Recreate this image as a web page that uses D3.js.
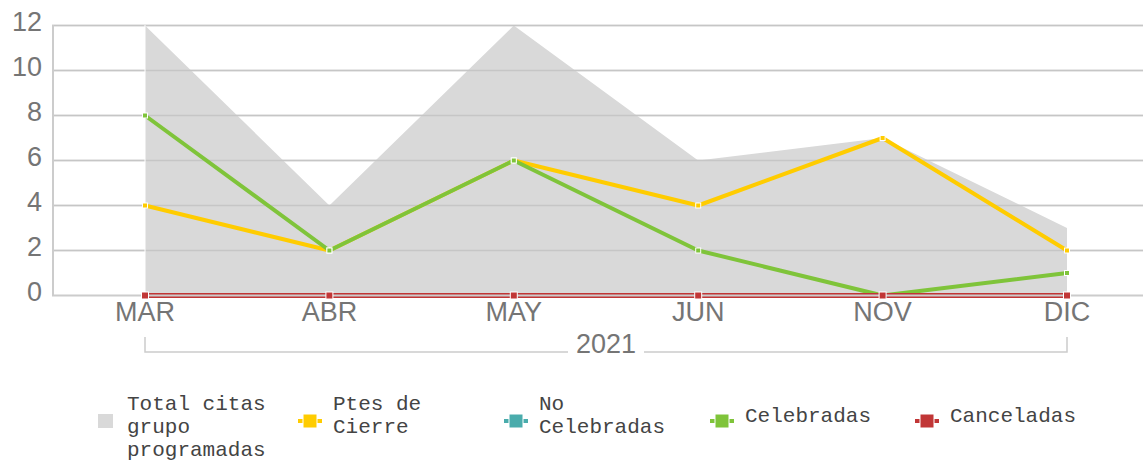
<!DOCTYPE html>
<meta charset="utf-8">
<body style="margin:0;background:#fff">
<script src="https://d3js.org/d3.v7.min.js"></script>
<style>
  body { font-family: "Liberation Sans", Arial, sans-serif; }
  .tick-label { fill: #757575; font-size: 27px; }
  .legend text { fill: #444; font-family: "Liberation Mono", "Courier New", monospace; font-size: 21px; }
</style>
<script>
// data
var months = ["MAR", "ABR", "MAY", "JUN", "NOV", "DIC"];
var year = "2021";
var totalCitas = [12, 4, 12, 6, 7, 3];
var ptesCierre = [4, 2, 6, 4, 7, 2];
var noCelebradas = [0, 0, 0, 0, 0, 0];
var celebradas = [8, 2, 6, 2, 0, 1];
var canceladas = [0, 0, 0, 0, 0, 0];
var yTicks = [0, 2, 4, 6, 8, 10, 12];

var legendLabels = [["Total citas", "grupo", "programadas"], ["Ptes de", "Cierre"], ["No", "Celebradas"], ["Celebradas"], ["Canceladas"]];
var legendColors = ["#d9d9d9", "#ffcc00", "#4aacac", "#7fc43a", "#c13636"];

var W = 1143, H = 463;
var svg = d3.select("body").append("svg").attr("width", W).attr("height", H);

var x = d3.scalePoint().domain(months).range([145, 1067]);
var y = d3.scaleLinear().domain([0, 12]).range([295.5, 25.5]);

// grid lines
var grid = svg.append("g");
function drawGrid(col) {
  svg.append("g").selectAll("line")
    .data(yTicks.slice(1))
    .enter().append("line")
      .attr("x1", 52).attr("x2", W)
      .attr("y1", function(d) { return y(d); })
      .attr("y2", function(d) { return y(d); })
      .attr("stroke", col).attr("stroke-width", 1.3);
}
drawGrid("#cfcfcf");

// area total
var area = d3.area()
  .x(function(d, i) { return x(months[i]); })
  .y0(y(0))
  .y1(function(d) { return y(d); });
svg.append("path").datum(totalCitas).attr("d", area).attr("fill", "#d9d9d9");
drawGrid("#c6c6c6");
svg.append("line").attr("x1", x("MAR")).attr("x2", x("MAR")).attr("y1", 25).attr("y2", 295)
  .attr("stroke", "#fff").attr("stroke-width", 1);

// axes
svg.append("line").attr("x1", 53).attr("x2", 53).attr("y1", 25).attr("y2", 296)
  .attr("stroke", "#cccccc").attr("stroke-width", 2);

svg.append("g").selectAll("text")
  .data(yTicks)
  .enter().append("text")
    .attr("class", "tick-label")
    .attr("x", 42)
    .attr("y", function(d) { return y(d) + 5; })
    .attr("text-anchor", "end")
    .text(function(d) { return d; });

svg.append("g").selectAll("text")
  .data(months)
  .enter().append("text")
    .attr("class", "tick-label")
    .attr("x", function(d) { return x(d); })
    .attr("y", 321)
    .attr("text-anchor", "middle")
    .text(function(d) { return d; });

// year bracket
var bx0 = x("MAR"), bx1 = x("DIC");
svg.append("path")
  .attr("d", "M" + bx0 + ",337V352H568M644,352H" + bx1 + "V337")
  .attr("fill", "none").attr("stroke", "#cccccc").attr("stroke-width", 1.5);
svg.append("text").attr("class", "tick-label")
  .attr("x", (bx0 + bx1) / 2).attr("y", 353)
  .attr("text-anchor", "middle").text(year);

// lines
var line = d3.line()
  .x(function(d, i) { return x(months[i]); })
  .y(function(d) { return y(d); });

var series = [
  {vals: ptesCierre, color: legendColors[1], w: 4},
  {vals: noCelebradas, color: legendColors[2], w: 4},
  {vals: celebradas, color: legendColors[3], w: 4},
  {vals: canceladas, color: legendColors[4], w: 5}
];

series.forEach(function(s) {
  svg.append("path").datum(s.vals).attr("d", line)
    .attr("fill", "none").attr("stroke", s.color).attr("stroke-width", s.w)
    .attr("stroke-linejoin", "round");
});

// baseline
svg.append("line").attr("x1", 52).attr("x2", W).attr("y1", 295.5).attr("y2", 295.5)
  .attr("stroke", "#cccccc").attr("stroke-width", 2);

// markers
series.forEach(function(s, k) {
  var sz = k == 3 ? 7 : 5;
  svg.append("g").selectAll("rect")
    .data(s.vals)
    .enter().append("rect")
      .attr("x", function(d, i) { return x(months[i]) - sz / 2; })
      .attr("y", function(d) { return y(d) - (k == 3 ? 3.5 : 2.5); })
      .attr("width", sz).attr("height", k == 3 ? 7 : 5)
      .attr("fill", s.color).attr("stroke", "#fff").attr("stroke-width", 1);
});

// legend
var legendX = [98, 298, 504, 710, 915];
var legend = svg.append("g").attr("class", "legend")
  .selectAll("g")
  .data(legendLabels)
  .enter().append("g")
    .attr("transform", function(d, i) { return "translate(" + legendX[i] + ",0)"; });

legend.each(function(d, i) {
  var g = d3.select(this);
  if (i == 0) {
    g.append("rect").attr("x", 0).attr("y", 414).attr("width", 15).attr("height", 14)
      .attr("fill", legendColors[0]);
  } else {
    g.append("line").attr("x1", 0).attr("x2", 24).attr("y1", 421).attr("y2", 421)
      .attr("stroke", legendColors[i]).attr("stroke-width", 4);
    g.append("rect").attr("x", 5).attr("y", 414).attr("width", 14).attr("height", 14)
      .attr("fill", legendColors[i]).attr("stroke", "#fff").attr("stroke-width", 1);
  }
  var tx = i == 0 ? 29 : 35;
  var first = d.length == 1 ? 422 : 410;
  g.append("text")
    .attr("x", tx)
    .selectAll("tspan")
    .data(d)
    .enter().append("tspan")
      .attr("x", tx)
      .attr("y", function(t, j) { return first + j * 23; })
      .text(function(t) { return t; });
});
</script>
</body>
